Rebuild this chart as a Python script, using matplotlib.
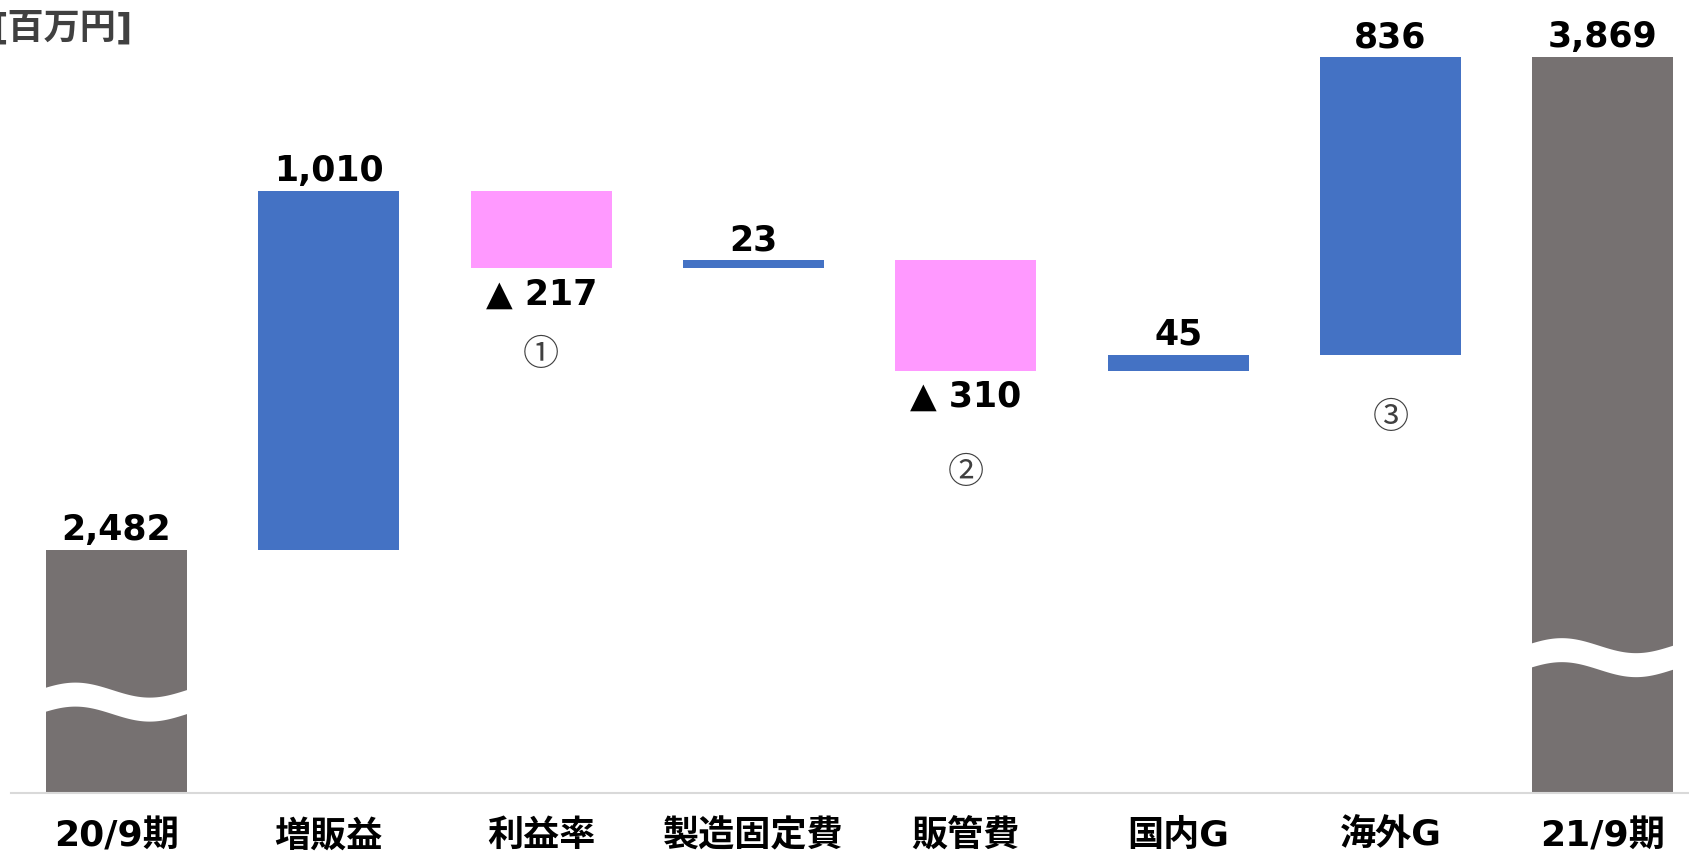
import matplotlib
matplotlib.use('Agg')
import matplotlib.pyplot as plt
import numpy as np

plt.rcParams['font.family'] = ['DejaVu Sans', 'Noto Sans CJK JP']

# data
categories = ['20/9期', '増販益', '利益率', '製造固定費', '販管費', '国内G', '海外G', '21/9期']
values = [2482, 1010, -217, 23, -310, 45, 836, 3869]
is_total = [True, False, False, False, False, False, False, True]
value_labels = ['2,482', '1,010', '▲ 217', '23', '▲ 310', '45', '836', '3,869']
note_labels = {2: '①', 4: '②', 6: '③'}
unit_label = '[百万円]'
axis_floor = 1800

# styles
c_total = '#767171'
c_up = '#4472C4'
c_down = '#FF99FF'
note_offset_px = {2: 87, 4: 102, 6: 63}
break_levels = {0: 2057, 7: 2182}

# waterfall geometry
bottoms, heights, colors = [], [], []
running = 0
for v, tot in zip(values, is_total):
    if tot:
        bottoms.append(axis_floor)
        heights.append(v - axis_floor)
        colors.append(c_total)
        running = v
    else:
        bottoms.append(min(running, running + v))
        heights.append(abs(v))
        colors.append(c_up if v > 0 else c_down)
        running += v

fig = plt.figure(figsize=(16.9, 8.55), dpi=100)
ax = fig.add_axes([11 / 1690, 1 - 793 / 855, 1 - 11 / 1690, 793 / 855])
x = np.arange(len(categories))
ax.bar(x, heights, bottom=bottoms, width=0.664, color=colors, zorder=2)

ax.set_xlim(-0.497, 7.41)
ax.set_ylim(axis_floor, 4030)
ax.set_yticks([])
ax.set_xticks(x)
ax.set_xticklabels(categories, fontsize=26, fontweight='bold')
ax.tick_params(axis='x', length=0, pad=19)
for s in ['top', 'left', 'right']:
    ax.spines[s].set_visible(False)
ax.spines['bottom'].set_color('#D9D9D9')
ax.spines['bottom'].set_linewidth(1.5)

# value labels
for i, (b, h, v) in enumerate(zip(bottoms, heights, values)):
    if v >= 0:
        ax.annotate(value_labels[i], (x[i], b + h), xytext=(0, 3), textcoords='offset pixels',
                    ha='center', va='bottom', fontsize=25, fontweight='bold', color='black')
    else:
        ax.annotate(value_labels[i], (x[i], b), xytext=(0, -9), textcoords='offset pixels',
                    ha='center', va='top', fontsize=25, fontweight='bold', color='black')
    if i in note_labels:
        ax.annotate(note_labels[i], (x[i], b), xytext=(0, -note_offset_px[i]), textcoords='offset pixels',
                    ha='center', va='center', fontsize=26, color='#404040',
                    family=['Noto Sans CJK JP', 'DejaVu Sans'])

# wave breaks on the total bars
px_unit = (4030 - axis_floor) / 793
for i, lvl in break_levels.items():
    t = np.linspace(0, 1, 100)
    xs = x[i] - 0.35 + 0.70 * t
    wave = 7.5 * px_unit * np.cos(2 * np.pi * (t - 0.22))
    half = 12 * px_unit
    ax.fill_between(xs, lvl + wave - half, lvl + wave + half, color='white', lw=0, zorder=3)

fig.text(-8 / 1690, 1 - 28 / 855, unit_label, fontsize=26, fontweight='bold', color='#404040',
         ha='left', va='center')

fig.savefig('out.png', dpi=100)
